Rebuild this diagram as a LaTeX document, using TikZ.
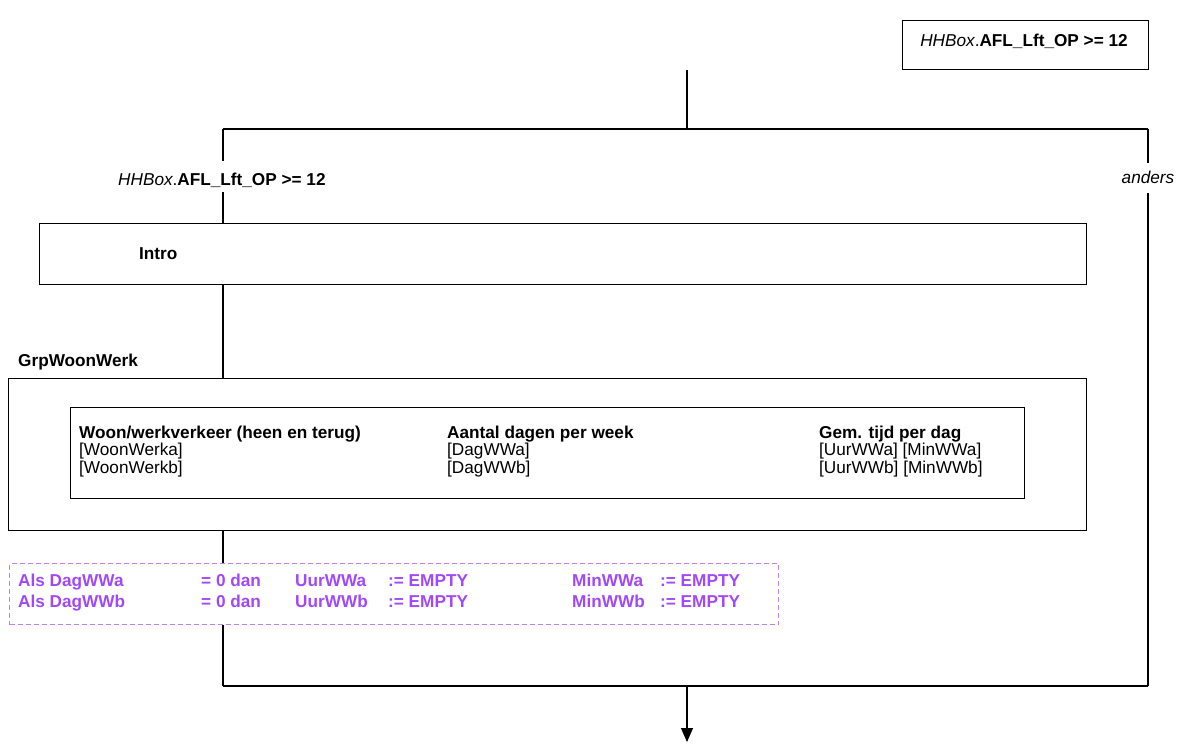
\documentclass[tikz,border=0pt]{standalone}
\usepackage{fontspec}
\setmainfont{Liberation Sans}
\usetikzlibrary{arrows.meta}
\definecolor{purtxt}{RGB}{160,72,250}
\definecolor{purline}{RGB}{190,130,250}
\begin{document}
\begin{tikzpicture}[x=1pt,y=-1pt,
  box/.style={draw, line width=1.1pt, inner sep=0pt, anchor=north west},
  lbl/.style={inner sep=0pt, anchor=base west, font=\fontsize{17.2}{20}\selectfont},
  plbl/.style={lbl, text=purtxt, font=\fontsize{17.2}{20}\selectfont\bfseries},
  conn/.style={draw, line width=1.1pt},
  cmpbox/.style={draw=purline, line width=1pt, dash pattern=on 5pt off 3pt, inner sep=0pt, anchor=north west}]
\useasboundingbox (0,0) rectangle (1184,744);
% top condition box
\node[box, minimum width=246pt, minimum height=49pt] (cond) at (902,20) {};
\node[lbl, anchor=base] (condtxt) at (1024,46) {\textit{HHBox}.\textbf{AFL\_Lft\_OP >= 12}};
% split
\coordinate (c0) at (687,70);
\coordinate (c1) at (687,129);
\coordinate (sl) at (223,129);
\coordinate (sr) at (1148,129);
\coordinate (la) at (223,161);
\coordinate (lb) at (223,192);
\coordinate (ra) at (1148,163);
\coordinate (rb) at (1148,193);
\coordinate (el) at (223,686);
\coordinate (er) at (1148,686);
\coordinate (ec) at (687,686);
\coordinate (out) at (687,742);
\node[lbl] (ifl) at (118,185) {\textit{HHBox}.\textbf{AFL\_Lft\_OP >= 12}};
\node[lbl, anchor=base] (anders) at (1148,183) {\textit{anders}};
\draw[conn] (c0) -- (c1);
\draw[conn] (sl) -- (sr);
\draw[conn] (sl) -- (la);
\draw[conn] (sr) -- (ra);
\draw[conn] (rb) -- (er);
% Intro
\node[box, minimum width=1047pt, minimum height=61pt] (intro) at (39,223) {};
\node[lbl] (introtxt) at (139,259) {\textbf{Intro}};
\draw[conn] (lb) -- (intro.north -| sl);
% GrpWoonWerk
\node[lbl] (grplbl) at (18,366) {\textbf{GrpWoonWerk}};
\node[box, minimum width=1078pt, minimum height=152pt] (grp) at (8,378) {};
\node[box, minimum width=954pt, minimum height=91pt] (tbl) at (70,407) {};
\draw[conn] (intro.south -| sl) -- (grp.north -| sl);
\node[lbl] (h1) at (79,438) {\textbf{Woon/werkverkeer (heen en terug)}};
\node[lbl] (h2) at (447,438) {\textbf{Aantal dagen per week}};
\node[lbl] (h3) at (819,438) {\textbf{Gem. tijd per dag}};
\node[lbl] (a1) at (79,455.5) {[WoonWerka]};
\node[lbl] (a2) at (447,455.5) {[DagWWa]};
\node[lbl] (a3) at (819,455.5) {[UurWWa] [MinWWa]};
\node[lbl] (b1) at (79,473) {[WoonWerkb]};
\node[lbl] (b2) at (447,473) {[DagWWb]};
\node[lbl] (b3) at (819,473) {[UurWWb] [MinWWb]};
% computation box
\node[cmpbox, minimum width=769pt, minimum height=61pt] (cmp) at (9,563) {};
\draw[conn] (grp.south -| sl) -- (cmp.north -| sl);
\node[plbl] (p11) at (18,586) {Als DagWWa};
\node[plbl] (p12) at (201,586) {= 0 dan};
\node[plbl] (p13) at (295,586) {UurWWa};
\node[plbl] (p14) at (388,586) {:= EMPTY};
\node[plbl] (p15) at (572,586) {MinWWa};
\node[plbl] (p16) at (660,586) {:= EMPTY};
\node[plbl] (p21) at (18,607) {Als DagWWb};
\node[plbl] (p22) at (201,607) {= 0 dan};
\node[plbl] (p23) at (295,607) {UurWWb};
\node[plbl] (p24) at (388,607) {:= EMPTY};
\node[plbl] (p25) at (572,607) {MinWWb};
\node[plbl] (p26) at (660,607) {:= EMPTY};
\draw[conn] (cmp.south -| sl) -- (el);
\draw[conn] (el) -- (er);
\draw[conn, -{Triangle[width=12pt,length=14pt]}] (ec) -- (out);
\end{tikzpicture}
\end{document}
